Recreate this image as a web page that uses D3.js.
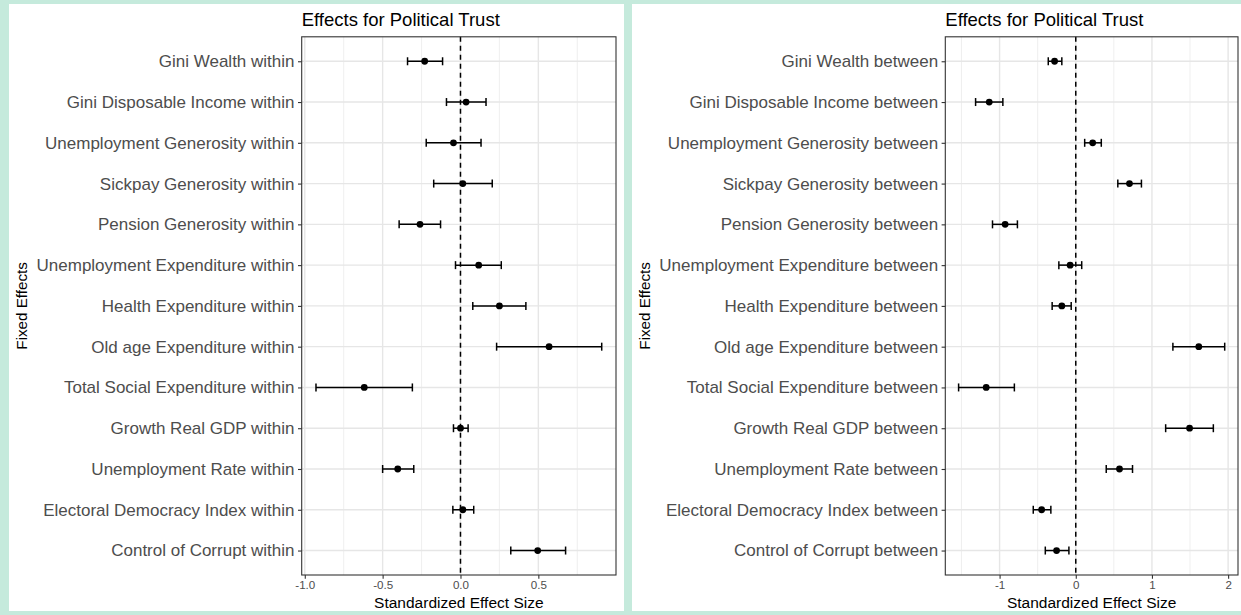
<!DOCTYPE html>
<html>
<head>
<meta charset="utf-8">
<script src="https://cdn.jsdelivr.net/npm/d3@7"></script>
<style>
  body { margin: 0; background: #c5eadc; }
  svg { display: block; font-family: "Liberation Sans", Arial, sans-serif; }
</style>
</head>
<body>
<svg id="chart" width="1241" height="615"></svg>
<script>
// ---------------------------------------------------------------------------
// data
var title = "Effects for Political Trust";

var labelsWithin = [
    "Gini Wealth within", "Gini Disposable Income within", "Unemployment Generosity within",
    "Sickpay Generosity within", "Pension Generosity within", "Unemployment Expenditure within",
    "Health Expenditure within", "Old age Expenditure within", "Total Social Expenditure within",
    "Growth Real GDP within", "Unemployment Rate within", "Electoral Democracy Index within",
    "Control of Corrupt within"
];
var estWithin  = [-0.23,  0.036, -0.045, 0.015, -0.26,  0.117, 0.25,  0.569, -0.618, 0.0,   -0.403, 0.015,  0.496];
var lowWithin  = [-0.34, -0.09,  -0.22, -0.172, -0.394, -0.032, 0.079, 0.232, -0.928, -0.045, -0.50, -0.049, 0.323];
var highWithin = [-0.115, 0.164,  0.132, 0.204, -0.128, 0.262, 0.42,  0.907, -0.309, 0.049, -0.30,  0.085,  0.675];
var ticksWithin = [-1.0, -0.5, 0.0, 0.5];

var labelsBetween = [
    "Gini Wealth between", "Gini Disposable Income between", "Unemployment Generosity between",
    "Sickpay Generosity between", "Pension Generosity between", "Unemployment Expenditure between",
    "Health Expenditure between", "Old age Expenditure between", "Total Social Expenditure between",
    "Growth Real GDP between", "Unemployment Rate between", "Electoral Democracy Index between",
    "Control of Corrupt between"
];
var estBetween  = [-0.278, -1.136, 0.222, 0.705, -0.927, -0.074, -0.183, 1.615, -1.176, 1.494, 0.574, -0.448, -0.252];
var lowBetween  = [-0.361, -1.315, 0.117, 0.552, -1.093, -0.222, -0.31,  1.275, -1.538, 1.18,  0.40,  -0.558, -0.40];
var highBetween = [-0.183, -0.957, 0.335, 0.862, -0.766,  0.078, -0.06,  1.955, -0.806, 1.806, 0.745, -0.327, -0.09];
var ticksBetween = [-1, 0, 1, 2];
// ---------------------------------------------------------------------------

var svg = d3.select("#chart");

function drawPanel(cfg)
{
    var g = svg.append("g");

    // white card
    g.append("rect")
     .attr("x", cfg.card[0]).attr("y", 4)
     .attr("width", cfg.card[1] - cfg.card[0]).attr("height", 607)
     .attr("fill", "#fff");

    var rows = cfg.labels.map((d, i) => ({
        label: d, est: cfg.est[i], low: cfg.low[i], high: cfg.high[i]
    }));

    // ggplot style 5% expansion of the data range
    var lo = d3.min(cfg.low.concat([0])), hi = d3.max(cfg.high.concat([0]));
    var pad = (hi - lo) * 0.05;

    var x = d3.scaleLinear()
              .domain([lo - pad, hi + pad])
              .range([cfg.left, cfg.right]);

    var top = 36.8, bottom = 575;

    var y = d3.scalePoint()
              .domain(cfg.labels)
              .range([top, bottom])
              .padding(0.6);

    // minor grid (half way between major ticks)
    var minor = [];
    var step = cfg.ticks[1] - cfg.ticks[0];
    for (var v = cfg.ticks[0] - step / 2; v <= x.domain()[1]; v += step)
        if (v >= x.domain()[0]) minor.push(v);

    g.selectAll(".minor").data(minor).enter().append("line")
     .attr("x1", d => x(d)).attr("x2", d => x(d))
     .attr("y1", top).attr("y2", bottom)
     .attr("stroke", "#ebebeb").attr("stroke-width", 0.8);

    g.selectAll(".majorx").data(cfg.ticks).enter().append("line")
     .attr("x1", d => x(d)).attr("x2", d => x(d))
     .attr("y1", top).attr("y2", bottom)
     .attr("stroke", "#e6e6e6").attr("stroke-width", 1.4);

    g.selectAll(".majory").data(cfg.labels).enter().append("line")
     .attr("x1", cfg.left).attr("x2", cfg.right)
     .attr("y1", d => y(d)).attr("y2", d => y(d))
     .attr("stroke", "#e6e6e6").attr("stroke-width", 1.4);

    // zero reference
    g.append("line")
     .attr("x1", x(0)).attr("x2", x(0))
     .attr("y1", top).attr("y2", bottom)
     .attr("stroke", "#000").attr("stroke-width", 1.5)
     .attr("stroke-dasharray", "5,4");

    // error bars
    var bars = g.selectAll(".bar").data(rows).enter().append("g");
    bars.append("line")
        .attr("x1", d => x(d.low)).attr("x2", d => x(d.high))
        .attr("y1", d => y(d.label)).attr("y2", d => y(d.label))
        .attr("stroke", "#000").attr("stroke-width", 1.5);
    bars.append("line")
        .attr("x1", d => x(d.low)).attr("x2", d => x(d.low))
        .attr("y1", d => y(d.label) - 4).attr("y2", d => y(d.label) + 4)
        .attr("stroke", "#000").attr("stroke-width", 1.5);
    bars.append("line")
        .attr("x1", d => x(d.high)).attr("x2", d => x(d.high))
        .attr("y1", d => y(d.label) - 4).attr("y2", d => y(d.label) + 4)
        .attr("stroke", "#000").attr("stroke-width", 1.5);
    bars.append("circle")
        .attr("cx", d => x(d.est)).attr("cy", d => y(d.label))
        .attr("r", 3.4).attr("fill", "#000");

    // panel border
    g.append("rect")
     .attr("x", cfg.left).attr("y", top)
     .attr("width", cfg.right - cfg.left).attr("height", bottom - top)
     .attr("fill", "none").attr("stroke", "#333").attr("stroke-width", 1.1);

    // axes
    var xAxis = d3.axisBottom(x).tickValues(cfg.ticks)
                  .tickFormat(cfg.fmt).tickSize(3.7).tickPadding(2);
    var gx = g.append("g").attr("transform", `translate(0,${bottom})`).call(xAxis);
    gx.select(".domain").remove();
    gx.selectAll(".tick line").attr("stroke", "#333").attr("stroke-width", 1.1);
    gx.selectAll(".tick text")
      .attr("fill", "#4d4d4d").style("font-size", "11.6px")
      .style("font-family", "Liberation Sans, Arial, sans-serif");

    var yAxis = d3.axisLeft(y).tickSize(3.7).tickPadding(3.5);
    var gy = g.append("g").attr("transform", `translate(${cfg.left},0)`).call(yAxis);
    gy.select(".domain").remove();
    gy.selectAll(".tick line").attr("stroke", "#333").attr("stroke-width", 1.1);
    gy.selectAll(".tick text")
      .attr("fill", "#4d4d4d").style("font-size", "17px")
      .style("font-family", "Liberation Sans, Arial, sans-serif");

    // titles
    g.append("text")
     .attr("x", cfg.left).attr("y", 25.5)
     .attr("font-size", "18.5px").attr("fill", "#000")
     .text(title);

    g.append("text")
     .attr("x", (cfg.left + cfg.right) / 2).attr("y", 608)
     .attr("text-anchor", "middle")
     .attr("font-size", "15.5px").attr("fill", "#000")
     .text("Standardized Effect Size");

    g.append("text")
     .attr("transform", `translate(${cfg.ytitle},${(top + bottom) / 2}) rotate(-90)`)
     .attr("text-anchor", "middle")
     .attr("font-size", "15.2px").attr("fill", "#000")
     .text("Fixed Effects");
}

drawPanel({
    card: [9, 624], left: 301.7, right: 616, ytitle: 27,
    labels: labelsWithin, est: estWithin, low: lowWithin, high: highWithin,
    ticks: ticksWithin, fmt: d => d.toFixed(1)
});

drawPanel({
    card: [632, 1241], left: 945.3, right: 1238, ytitle: 650,
    labels: labelsBetween, est: estBetween, low: lowBetween, high: highBetween,
    ticks: ticksBetween, fmt: d => String(d)
});
</script>
</body>
</html>
